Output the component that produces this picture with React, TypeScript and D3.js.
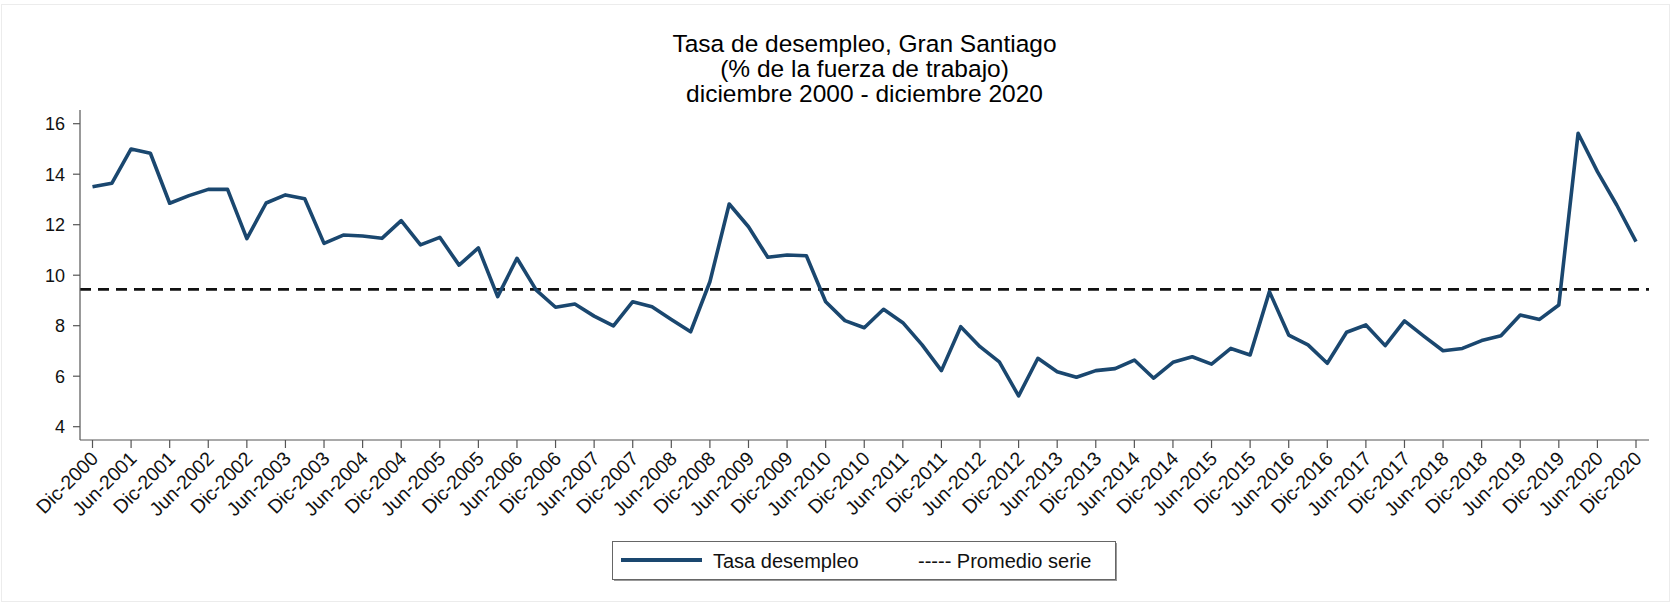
import * as D3 from 'd3'
import { useEffect, useRef } from 'react'

// tasa de desempleo trimestral, dic-2000 .. dic-2020
const TASA = [
  13.5, 13.64, 15.0, 14.83, 12.85, 13.15, 13.4, 13.4, 11.45, 12.86, 13.18, 13.03,
  11.26, 11.59, 11.55, 11.46, 12.16, 11.2, 11.5, 10.4, 11.08, 9.15, 10.67, 9.41,
  8.73, 8.86, 8.38, 7.99, 8.95, 8.75, 8.25, 7.76, 9.74, 12.82, 11.92, 10.71,
  10.8, 10.77, 8.95, 8.2, 7.92, 8.65, 8.12, 7.24, 6.22, 7.96, 7.17, 6.57,
  5.22, 6.71, 6.18, 5.96, 6.22, 6.3, 6.64, 5.92, 6.55, 6.77, 6.48, 7.1,
  6.84, 9.35, 7.63, 7.24, 6.51, 7.74, 8.03, 7.21, 8.19, 7.59, 7.01, 7.1,
  7.41, 7.6, 8.42, 8.25, 8.82, 15.62, 14.1, 12.78, 11.33,
]

const PROMEDIO = 9.44

const TICK_LABELS = [
  'Dic-2000', 'Jun-2001', 'Dic-2001', 'Jun-2002', 'Dic-2002', 'Jun-2003', 'Dic-2003',
  'Jun-2004', 'Dic-2004', 'Jun-2005', 'Dic-2005', 'Jun-2006', 'Dic-2006', 'Jun-2007',
  'Dic-2007', 'Jun-2008', 'Dic-2008', 'Jun-2009', 'Dic-2009', 'Jun-2010', 'Dic-2010',
  'Jun-2011', 'Dic-2011', 'Jun-2012', 'Dic-2012', 'Jun-2013', 'Dic-2013', 'Jun-2014',
  'Dic-2014', 'Jun-2015', 'Dic-2015', 'Jun-2016', 'Dic-2016', 'Jun-2017', 'Dic-2017',
  'Jun-2018', 'Dic-2018', 'Jun-2019', 'Dic-2019', 'Jun-2020', 'Dic-2020',
]

const Y_TICKS = [4, 6, 8, 10, 12, 14, 16]

const TITLE = [
  'Tasa de desempleo, Gran Santiago',
  '(% de la fuerza de trabajo)',
  'diciembre 2000 - diciembre 2020',
]

export default function App() {
  const ref = useRef<HTMLDivElement>(null)

  useEffect(() => {
    const width = 1672
    const height = 604
    const plotLeft = 80
    const plotRight = 1649
    const plotTop = 110
    const plotBottom = 440
    const navy = '#1a476f'
    const font = '"Liberation Sans", Arial, sans-serif'

    /* scales: quarter index -> px, rate -> px */
    const x = D3.scaleLinear().domain([0, TASA.length - 1]).range([92.5, 1636])
    const y = D3.scaleLinear().domain([4, 16]).range([426.7, 123.7])

    const svg = D3.create('svg')
      .attr('width', width)
      .attr('height', height)
      .attr('viewBox', [0, 0, width, height])
      .attr('style', `position:absolute; left:0; top:0; background:#fff; font-family:${font};`)

    // faint outer frame
    svg.append('rect')
      .attr('x', 1.5).attr('y', 4.5)
      .attr('width', width - 4).attr('height', height - 7)
      .attr('fill', 'none').attr('stroke', '#ececec').attr('stroke-width', 1)

    /* title */
    svg.append('g')
      .attr('text-anchor', 'middle')
      .attr('font-size', 24.5)
      .attr('fill', '#000')
      .selectAll('text')
      .data(TITLE)
      .join('text')
      .attr('x', (plotLeft + plotRight) / 2)
      .attr('y', (_, i) => 51.5 + i * 25)
      .text((d) => d)

    /* average line */
    svg.append('line')
      .attr('x1', plotLeft).attr('x2', plotRight)
      .attr('y1', y(PROMEDIO)).attr('y2', y(PROMEDIO))
      .attr('stroke', '#111').attr('stroke-width', 2.6)
      .attr('stroke-dasharray', '11 7')

    /* series */
    const line = D3.line<number>()
      .x((_, i) => x(i))
      .y((d) => y(d))
    svg.append('path')
      .datum(TASA)
      .attr('d', line)
      .attr('fill', 'none')
      .attr('stroke', navy)
      .attr('stroke-width', 3.6)
      .attr('stroke-linejoin', 'round')

    /* axes */
    const axisColor = '#555'
    svg.append('line')
      .attr('x1', plotLeft).attr('x2', plotLeft)
      .attr('y1', plotTop).attr('y2', plotBottom)
      .attr('stroke', axisColor).attr('stroke-width', 1.2)
    svg.append('line')
      .attr('x1', plotLeft).attr('x2', plotRight)
      .attr('y1', plotBottom).attr('y2', plotBottom)
      .attr('stroke', axisColor).attr('stroke-width', 1.2)

    const yt = svg.append('g').selectAll('g').data(Y_TICKS).join('g')
    yt.append('line')
      .attr('x1', plotLeft - 7).attr('x2', plotLeft)
      .attr('y1', (d) => y(d)).attr('y2', (d) => y(d))
      .attr('stroke', axisColor).attr('stroke-width', 1.2)
    yt.append('text')
      .attr('x', plotLeft - 15)
      .attr('y', (d) => y(d))
      .attr('dy', '0.35em')
      .attr('text-anchor', 'end')
      .attr('font-size', 18)
      .attr('fill', '#111')
      .text((d) => d)

    const xt = svg.append('g').selectAll('g').data(TICK_LABELS).join('g')
    xt.append('line')
      .attr('x1', (_, i) => x(i * 2)).attr('x2', (_, i) => x(i * 2))
      .attr('y1', plotBottom).attr('y2', plotBottom + 8)
      .attr('stroke', axisColor).attr('stroke-width', 1.2)
    xt.append('text')
      .attr('transform', (_, i) => `translate(${x(i * 2) + 2}, ${plotBottom + 15}) rotate(-45)`)
      .attr('dy', '0.35em')
      .attr('text-anchor', 'end')
      .attr('font-size', 19.5)
      .attr('fill', '#111')
      .text((d) => d)

    /* legend */
    const lg = svg.append('g')
    lg.append('rect')
      .attr('x', 614).attr('y', 543)
      .attr('width', 503).attr('height', 38)
      .attr('fill', '#999')
    lg.append('rect')
      .attr('x', 612.5).attr('y', 541.5)
      .attr('width', 503).attr('height', 38)
      .attr('fill', '#fff').attr('stroke', '#666').attr('stroke-width', 1)
    lg.append('line')
      .attr('x1', 621).attr('x2', 702)
      .attr('y1', 560).attr('y2', 560)
      .attr('stroke', navy).attr('stroke-width', 4)
    lg.append('text')
      .attr('x', 713).attr('y', 568)
      .attr('font-size', 20).attr('fill', '#111')
      .text('Tasa desempleo')
    lg.append('text')
      .attr('x', 918).attr('y', 568)
      .attr('font-size', 20).attr('fill', '#111')
      .text('----- Promedio serie')

    const node = svg.node()
    if (ref.current && node) {
      ref.current.innerHTML = ''
      ref.current.appendChild(node)
    }
  }, [])

  return <div ref={ref} />
}
